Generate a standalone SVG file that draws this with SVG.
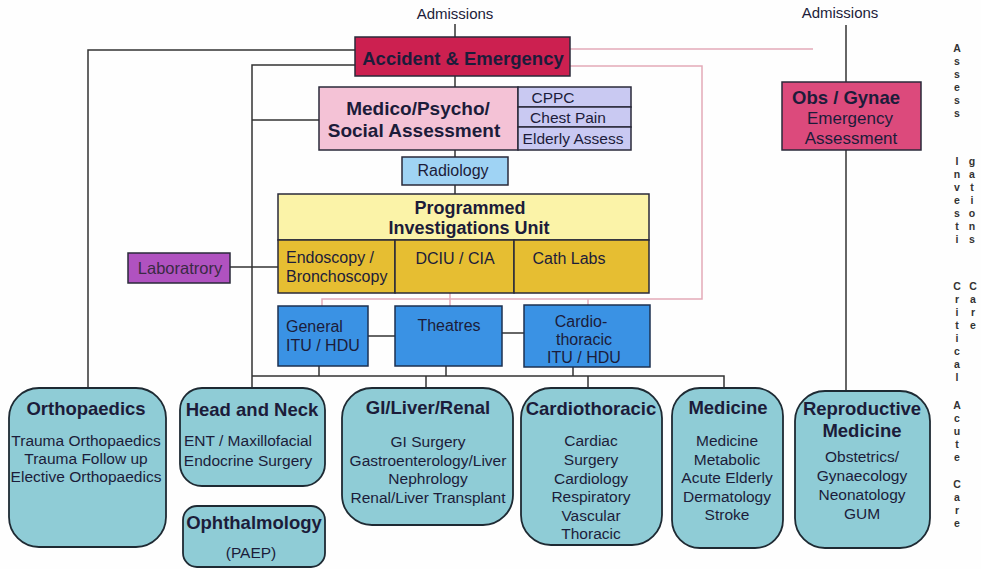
<svg xmlns="http://www.w3.org/2000/svg" width="981" height="569" viewBox="0 0 981 569">
<style>
text{font-family:"Liberation Sans",Arial,sans-serif;fill:#1c1c3a;}
.t{font-size:15.5px;text-anchor:middle;}
.tl{font-size:15.5px;}
.b{font-size:18.5px;font-weight:bold;text-anchor:middle;}
.side{font-size:10.5px;font-weight:bold;text-anchor:middle;fill:#333;}
.box{stroke:#2a2a3a;stroke-width:1.5;}
.dept{fill:#8fccd6;stroke:#1e2a33;stroke-width:1.8;}
.itu{fill:#3a92e4;stroke:#1d3050;stroke-width:1.5;}
.c{fill:none;stroke:#333;stroke-width:1.5;}
.p{fill:none;stroke:#e3aab8;stroke-width:1.5;}
</style>
<rect width="981" height="569" fill="#fefefe"/>
<g id="connectors">
<line class="c" x1="455" y1="24" x2="455" y2="37"/>
<polyline class="c" points="355,50 88,50 88,388"/>
<polyline class="c" points="355,65 252,65 252,388"/>
<line class="c" x1="252" y1="120" x2="319" y2="120"/>
<line class="c" x1="455" y1="76" x2="455" y2="87"/>
<line class="c" x1="455" y1="150" x2="455" y2="157"/>
<line class="c" x1="455" y1="185" x2="455" y2="194"/>
<line class="c" x1="230" y1="267" x2="278" y2="267"/>
<line class="c" x1="368" y1="336" x2="395" y2="336"/>
<line class="c" x1="502" y1="333" x2="524" y2="333"/>
<polyline class="c" points="252,376 724,376 724,388"/>
<line class="c" x1="319" y1="366" x2="319" y2="376"/>
<line class="c" x1="446" y1="366" x2="446" y2="376"/>
<line class="c" x1="573" y1="367" x2="573" y2="376"/>
<line class="c" x1="426" y1="376" x2="426" y2="388"/>
<line class="c" x1="588" y1="376" x2="588" y2="388"/>
<line class="c" x1="846" y1="25" x2="846" y2="82"/>
<line class="c" x1="846" y1="150" x2="846" y2="391"/>
<line class="p" x1="570" y1="49" x2="813" y2="49"/>
<polyline class="p" points="570,66 702,66 702,299 322,299 322,306"/>
<line class="p" x1="450" y1="293" x2="450" y2="306"/>
<line class="p" x1="588" y1="299" x2="588" y2="305"/>
</g>
<text class="t" x="455" y="19" style="font-size:15px">Admissions</text>
<text class="t" x="840" y="18" style="font-size:15px">Admissions</text>
<g id="ae">
<rect class="box" x="355" y="37" width="215" height="39" fill="#cc2050"/>
<text class="b" x="463" y="65">Accident &amp; Emergency</text>
</g>
<g id="mps">
<rect class="box" x="319" y="87" width="199" height="63" fill="#f4c2d6"/>
<text class="b" x="418" y="115" style="font-size:19px">Medico/Psycho/</text>
<text class="b" x="414" y="137" style="font-size:19px">Social Assessment</text>
</g>
<g id="cppc">
<rect class="box" x="518" y="87" width="113" height="20" fill="#c9c9f2"/>
<text class="t" x="553" y="103">CPPC</text>
</g>
<g id="chestpain">
<rect class="box" x="518" y="107" width="113" height="20" fill="#c9c9f2"/>
<text class="t" x="568" y="123">Chest Pain</text>
</g>
<g id="elderly">
<rect class="box" x="518" y="127" width="113" height="23" fill="#c9c9f2"/>
<text class="t" x="573" y="144">Elderly Assess</text>
</g>
<g id="obs">
<rect class="box" x="782" y="82" width="139" height="68" fill="#dc4a7c"/>
<text class="b" x="846" y="104">Obs / Gynae</text>
<text class="t" x="850" y="124" style="font-size:17px">Emergency</text>
<text class="t" x="851" y="144" style="font-size:17px">Assessment</text>
</g>
<g id="radiology">
<rect class="box" x="402" y="157" width="106" height="28" fill="#9fd3f4"/>
<text class="t" x="453" y="176" style="font-size:16px">Radiology</text>
</g>
<g id="piu">
<rect class="box" x="278" y="194" width="371" height="46" fill="#fbf3a8"/>
<text class="b" x="470" y="214" style="font-size:18px">Programmed</text>
<text class="b" x="469" y="234" style="font-size:18px">Investigations Unit</text>
</g>
<g id="endoscopy">
<rect class="box" x="278" y="240" width="117" height="53" fill="#e6be32"/>
<text class="tl" x="286" y="263" style="font-size:16px">Endoscopy /</text>
<text class="tl" x="286" y="282" style="font-size:16px">Bronchoscopy</text>
</g>
<g id="dciu">
<rect class="box" x="395" y="240" width="119" height="53" fill="#e6be32"/>
<text class="t" x="455" y="264" style="font-size:16px">DCIU / CIA</text>
</g>
<g id="cathlabs">
<rect class="box" x="514" y="240" width="135" height="53" fill="#e6be32"/>
<text class="t" x="569" y="264" style="font-size:16px">Cath Labs</text>
</g>
<g id="laboratory">
<rect class="box" x="128" y="253" width="102" height="30" fill="#b052c0"/>
<text class="t" x="180" y="274" style="fill:#3a2a44;font-size:16.5px">Laboratrory</text>
</g>
<g id="general-itu">
<rect class="itu" x="278" y="306" width="90" height="60"/>
<text class="tl" x="286" y="332" style="font-size:16px">General</text>
<text class="tl" x="286" y="351" style="font-size:16px">ITU / HDU</text>
</g>
<g id="theatres">
<rect class="itu" x="395" y="306" width="107" height="60"/>
<text class="t" x="449" y="331" style="font-size:16px">Theatres</text>
</g>
<g id="cardio-itu">
<rect class="itu" x="524" y="305" width="126" height="62"/>
<text class="t" x="581" y="327" style="font-size:16px">Cardio-</text>
<text class="t" x="584" y="345" style="font-size:16px">thoracic</text>
<text class="t" x="584" y="363" style="font-size:16px">ITU / HDU</text>
</g>
<g id="orthopaedics">
<rect class="dept" x="9" y="388" width="157" height="159" rx="30"/>
<text class="b" x="86" y="415">Orthopaedics</text>
<text class="t" x="86" y="446">Trauma Orthopaedics</text>
<text class="t" x="86" y="464">Trauma Follow up</text>
<text class="t" x="86" y="482">Elective Orthopaedics</text>
</g>
<g id="headneck">
<rect class="dept" x="180" y="388" width="145" height="98" rx="22"/>
<text class="b" x="252" y="416">Head and Neck</text>
<text class="t" x="248" y="446">ENT / Maxillofacial</text>
<text class="t" x="248" y="466">Endocrine Surgery</text>
</g>
<g id="ophthalmology">
<rect class="dept" x="183" y="506" width="142" height="61" rx="14"/>
<text class="b" x="254" y="529">Ophthalmology</text>
<text class="t" x="251" y="558">(PAEP)</text>
</g>
<g id="gi">
<rect class="dept" x="342" y="388" width="171" height="137" rx="30"/>
<text class="b" x="428" y="414">GI/Liver/Renal</text>
<text class="t" x="428" y="447">GI Surgery</text>
<text class="t" x="428" y="466">Gastroenterology/Liver</text>
<text class="t" x="428" y="484">Nephrology</text>
<text class="t" x="428" y="503">Renal/Liver Transplant</text>
</g>
<g id="cardiothoracic">
<rect class="dept" x="521" y="388" width="141" height="157" rx="30"/>
<text class="b" x="591" y="415">Cardiothoracic</text>
<text class="t" x="591" y="446">Cardiac</text>
<text class="t" x="591" y="465">Surgery</text>
<text class="t" x="591" y="484">Cardiology</text>
<text class="t" x="591" y="502">Respiratory</text>
<text class="t" x="591" y="521">Vascular</text>
<text class="t" x="591" y="539">Thoracic</text>
</g>
<g id="medicine">
<rect class="dept" x="672" y="388" width="111" height="160" rx="28"/>
<text class="b" x="728" y="414">Medicine</text>
<text class="t" x="727" y="446">Medicine</text>
<text class="t" x="727" y="465">Metabolic</text>
<text class="t" x="727" y="483">Acute Elderly</text>
<text class="t" x="727" y="502">Dermatology</text>
<text class="t" x="727" y="520">Stroke</text>
</g>
<g id="reproductive">
<rect class="dept" x="795" y="391" width="135" height="157" rx="30"/>
<text class="b" x="862" y="415">Reproductive</text>
<text class="b" x="862" y="437">Medicine</text>
<text class="t" x="862" y="462">Obstetrics/</text>
<text class="t" x="862" y="481">Gynaecology</text>
<text class="t" x="862" y="500">Neonatology</text>
<text class="t" x="862" y="519">GUM</text>
</g>
<g id="side-labels">
<text class="side" x="957" y="52">A</text><text class="side" x="957" y="65">s</text><text class="side" x="957" y="78">s</text><text class="side" x="957" y="91">e</text><text class="side" x="957" y="104">s</text><text class="side" x="957" y="117">s</text>
<text class="side" x="957" y="165">I</text><text class="side" x="957" y="178">n</text><text class="side" x="957" y="191">v</text><text class="side" x="957" y="204">e</text><text class="side" x="957" y="217">s</text><text class="side" x="957" y="230">t</text><text class="side" x="957" y="243">i</text>
<text class="side" x="972" y="165">g</text><text class="side" x="972" y="178">a</text><text class="side" x="972" y="191">t</text><text class="side" x="972" y="204">i</text><text class="side" x="972" y="217">o</text><text class="side" x="972" y="230">n</text><text class="side" x="972" y="243">s</text>
<text class="side" x="957" y="290">C</text><text class="side" x="957" y="303">r</text><text class="side" x="957" y="316">i</text><text class="side" x="957" y="329">t</text><text class="side" x="957" y="342">i</text><text class="side" x="957" y="355">c</text><text class="side" x="957" y="368">a</text><text class="side" x="957" y="381">l</text>
<text class="side" x="973" y="290">C</text><text class="side" x="973" y="303">a</text><text class="side" x="973" y="316">r</text><text class="side" x="973" y="329">e</text>
<text class="side" x="957" y="409">A</text><text class="side" x="957" y="422">c</text><text class="side" x="957" y="435">u</text><text class="side" x="957" y="448">t</text><text class="side" x="957" y="461">e</text>
<text class="side" x="957" y="488">C</text><text class="side" x="957" y="501">a</text><text class="side" x="957" y="514">r</text><text class="side" x="957" y="527">e</text>
</g>
</svg>
